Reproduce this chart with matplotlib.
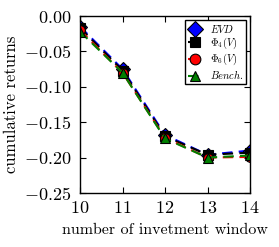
import matplotlib
matplotlib.use("Agg")
import matplotlib.pyplot as plt

plt.rcParams['font.family'] = 'serif'
plt.rcParams['font.serif'] = ['cmr10']
plt.rcParams['mathtext.fontset'] = 'cm'
plt.rcParams['axes.formatter.use_mathtext'] = True
plt.rcParams['axes.unicode_minus'] = True

x = [10, 11, 12, 13, 14]
evd = [-0.015, -0.075, -0.168, -0.196, -0.190]
phi4 = [-0.017, -0.077, -0.170, -0.196, -0.193]
phi6 = [-0.020, -0.080, -0.172, -0.200, -0.199]
bench = [-0.022, -0.080, -0.173, -0.200, -0.197]
labels = [r'$EVD$', r'$\Phi_4(V)$', r'$\Phi_6(V)$', r'$Bench.$']

fig = plt.figure(figsize=(2.79, 2.47), dpi=100)
ax = fig.add_axes([80/279, 1-193/247, 170/279, 177/247])

styles = [('blue', 'D'), ('black', 's'), ('red', 'o'), ('green', '^')]
for ys, lab, (c, m) in zip([evd, phi4, phi6, bench], labels, styles):
    ax.plot(x, ys, linestyle='--', color=c, marker=m, markersize=7,
            markeredgecolor='black', markeredgewidth=0.8, linewidth=1.5,
            label=lab, dashes=(5, 3))

ax.set_xlim(10, 14)
ax.set_ylim(-0.25, 0.0)
ax.set_xticks([10, 11, 12, 13, 14])
ax.set_yticks([-0.25, -0.20, -0.15, -0.10, -0.05, 0.00])
ax.set_yticklabels([r'$-0.25$', r'$-0.20$', r'$-0.15$', r'$-0.10$', r'$-0.05$', r'$0.00$'])
ax.set_xticklabels([r'$10$', r'$11$', r'$12$', r'$13$', r'$14$'])
ax.tick_params(direction='in', top=True, right=True, labelsize=13, length=4)
ax.tick_params(axis='y', pad=6)
ax.tick_params(axis='x', pad=5)
ax.set_xlabel('number of invetment window', fontsize=11.5, labelpad=5)
ax.set_ylabel('cumulative returns', fontsize=12, labelpad=4)
for s in ax.spines.values():
    s.set_linewidth(1.0)
leg = ax.legend(loc='upper right', fontsize=7.5, fancybox=False, framealpha=1,
                edgecolor='black', handlelength=1.3, borderpad=0.25,
                labelspacing=0.1, handletextpad=0.8, markerscale=1.1,
                borderaxespad=0.4)
leg.get_frame().set_linewidth(1.0)

fig.savefig('out.png', dpi=100)
